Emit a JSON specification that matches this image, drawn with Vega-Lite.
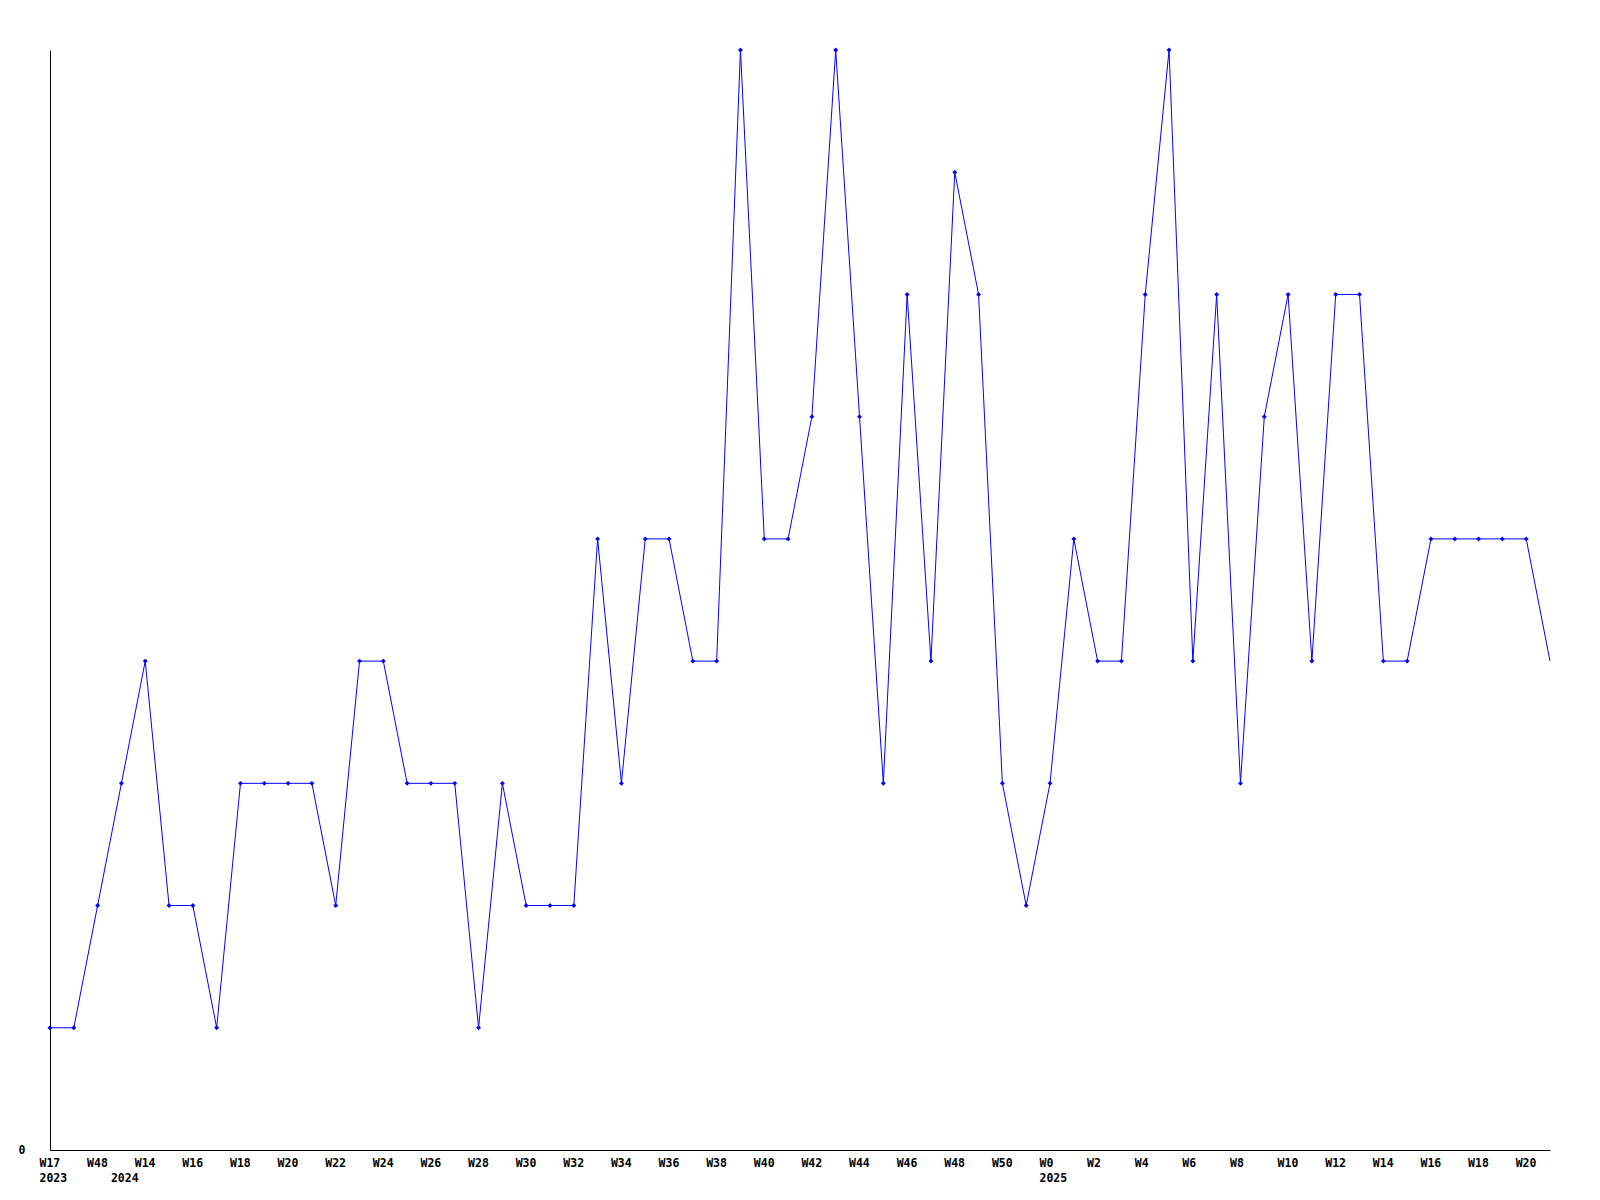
{
  "$schema": "https://vega.github.io/schema/vega-lite/v6.json",
  "autosize": {"type": "none"},
  "padding": {"left": 50, "top": 50, "right": 50, "bottom": 50},
  "width": 1500,
  "height": 1100,
  "background": "white",
  "config": {
    "view": {"stroke": null},
    "axis": {"domainColor": "black", "domainWidth": 1, "grid": false, "ticks": false,
             "labelFont": "DejaVu Sans Mono", "labelFontWeight": "bold", "labelFontSize": 11.5, "labelColor": "black"}
  },
  "data": {"values": [
    {"week": "2023-W17", "v": 1}, {"week": "2023-W32", "v": 1}, {"week": "2023-W48", "v": 2}, {"week": "2024-W2", "v": 3},
    {"week": "2024-W14", "v": 4}, {"week": "2024-W15", "v": 2}, {"week": "2024-W16", "v": 2}, {"week": "2024-W17", "v": 1},
    {"week": "2024-W18", "v": 3}, {"week": "2024-W19", "v": 3}, {"week": "2024-W20", "v": 3}, {"week": "2024-W21", "v": 3},
    {"week": "2024-W22", "v": 2}, {"week": "2024-W23", "v": 4}, {"week": "2024-W24", "v": 4}, {"week": "2024-W25", "v": 3},
    {"week": "2024-W26", "v": 3}, {"week": "2024-W27", "v": 3}, {"week": "2024-W28", "v": 1}, {"week": "2024-W29", "v": 3},
    {"week": "2024-W30", "v": 2}, {"week": "2024-W31", "v": 2}, {"week": "2024-W32", "v": 2}, {"week": "2024-W33", "v": 5},
    {"week": "2024-W34", "v": 3}, {"week": "2024-W35", "v": 5}, {"week": "2024-W36", "v": 5}, {"week": "2024-W37", "v": 4},
    {"week": "2024-W38", "v": 4}, {"week": "2024-W39", "v": 9}, {"week": "2024-W40", "v": 5}, {"week": "2024-W41", "v": 5},
    {"week": "2024-W42", "v": 6}, {"week": "2024-W43", "v": 9}, {"week": "2024-W44", "v": 6}, {"week": "2024-W45", "v": 3},
    {"week": "2024-W46", "v": 7}, {"week": "2024-W47", "v": 4}, {"week": "2024-W48", "v": 8}, {"week": "2024-W49", "v": 7},
    {"week": "2024-W50", "v": 3}, {"week": "2024-W51", "v": 2}, {"week": "2025-W0", "v": 3}, {"week": "2025-W1", "v": 5},
    {"week": "2025-W2", "v": 4}, {"week": "2025-W3", "v": 4}, {"week": "2025-W4", "v": 7}, {"week": "2025-W5", "v": 9},
    {"week": "2025-W6", "v": 4}, {"week": "2025-W7", "v": 7}, {"week": "2025-W8", "v": 3}, {"week": "2025-W9", "v": 6},
    {"week": "2025-W10", "v": 7}, {"week": "2025-W11", "v": 4}, {"week": "2025-W12", "v": 7}, {"week": "2025-W13", "v": 7},
    {"week": "2025-W14", "v": 4}, {"week": "2025-W15", "v": 4}, {"week": "2025-W16", "v": 5}, {"week": "2025-W17", "v": 5},
    {"week": "2025-W18", "v": 5}, {"week": "2025-W19", "v": 5}, {"week": "2025-W20", "v": 5}, {"week": "2025-W21", "v": 4}
  ]},
  "encoding": {
    "x": {"field": "week", "type": "ordinal", "sort": null,
          "scale": {"type": "point", "padding": 0},
          "axis": {"title": null, "labelAngle": 0, "labelPadding": 7, "labelBaseline": "top", "labelLineHeight": 15,
                   "labelAlign": "left", "labelOffset": -11, "labelOverlap": false, "labelBound": false, "labelFlush": false,
                   "values": ["2023-W17", "2023-W48", "2024-W2", "2024-W14", "2024-W16", "2024-W18", "2024-W20", "2024-W22", "2024-W24", "2024-W26", "2024-W28", "2024-W30", "2024-W32", "2024-W34", "2024-W36", "2024-W38", "2024-W40", "2024-W42", "2024-W44", "2024-W46", "2024-W48", "2024-W50", "2025-W0", "2025-W2", "2025-W4", "2025-W6", "2025-W8", "2025-W10", "2025-W12", "2025-W14", "2025-W16", "2025-W18", "2025-W20"],
                   "labelExpr": "datum.value === '2024-W2' ? ['', '2024'] : ((datum.value === '2023-W17' || datum.value === '2025-W0') ? [split(datum.value, '-')[1], split(datum.value, '-')[0]] : split(datum.value, '-')[1])"}},
    "y": {"field": "v", "type": "quantitative", "scale": {"domain": [0, 9], "nice": false},
          "axis": {"title": null, "values": [0], "labelPadding": 25, "labelBaseline": "middle"}}
  },
  "layer": [
    {"mark": {"type": "line", "color": "#0000ff", "strokeWidth": 1}},
    {"transform": [{"filter": "datum.week !== '2025-W21'"}],
     "mark": {"type": "point", "shape": "diamond", "filled": true, "color": "#0000ff", "size": 24, "opacity": 1}}
  ]
}
